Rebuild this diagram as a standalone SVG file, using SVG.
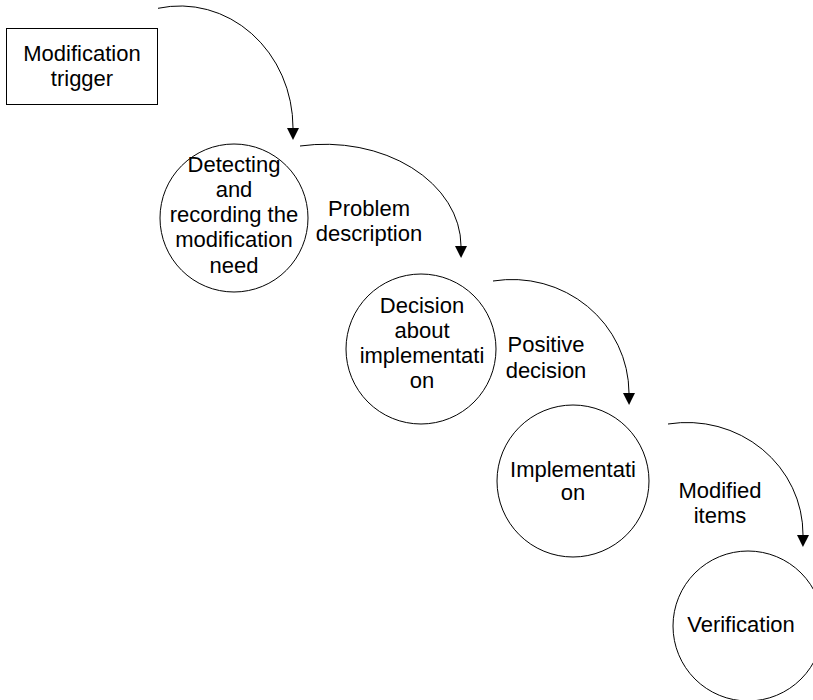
<svg xmlns="http://www.w3.org/2000/svg" width="813" height="700" viewBox="0 0 813 700">
  <style>
    .node { fill: #ffffff; stroke: #000000; stroke-width: 1; }
    .label { font-family: "Liberation Sans", Arial, sans-serif; font-size: 22px; fill: #000000; text-anchor: middle; }
    .flow { fill: none; stroke: #000000; stroke-width: 1; marker-end: url(#arrow); }
  </style>
  <defs>
    <!-- arrowhead base sits at the path end, tip points along the tangent -->
    <marker id="arrow" markerUnits="userSpaceOnUse" markerWidth="13" markerHeight="13" refX="0" refY="6" orient="auto">
      <path d="M0,0 L12,6 L0,12 Z" fill="#000000"/>
    </marker>
  </defs>
  <rect width="813" height="700" fill="#ffffff"/>

  <g id="connectors">
    <path class="flow" d="M158,8.3 A113,122 0 0 1 293,128"/>
    <path class="flow" d="M300,146 A136,102 0 0 1 461,246"/>
    <path class="flow" d="M493,281 A117,114 0 0 1 629,393"/>
    <path class="flow" d="M668,424 A116,112 0 0 1 803,535"/>
  </g>

  <g id="edge-labels">
    <text class="label" x="369" y="216">Problem</text>
    <text class="label" x="369" y="241">description</text>
    <text class="label" x="546" y="352">Positive</text>
    <text class="label" x="546" y="378">decision</text>
    <text class="label" x="720" y="498">Modified</text>
    <text class="label" x="720" y="523">items</text>
  </g>

  <g id="trigger">
    <rect class="node" x="6.5" y="28.5" width="151" height="76"/>
    <text class="label" x="82" y="61">Modification</text>
    <text class="label" x="82" y="86">trigger</text>
  </g>

  <g id="detecting">
    <circle class="node" cx="234" cy="218" r="74"/>
    <text class="label" x="234" y="172">Detecting</text>
    <text class="label" x="234" y="197">and</text>
    <text class="label" x="234" y="222">recording the</text>
    <text class="label" x="234" y="247">modification</text>
    <text class="label" x="234" y="273">need</text>
  </g>

  <g id="decision">
    <circle class="node" cx="421" cy="349" r="75"/>
    <text class="label" x="422" y="313">Decision</text>
    <text class="label" x="422" y="338">about</text>
    <text class="label" x="422" y="363">implementati</text>
    <text class="label" x="422" y="388">on</text>
  </g>

  <g id="implementation">
    <circle class="node" cx="573" cy="481" r="76"/>
    <text class="label" x="573" y="477">Implementati</text>
    <text class="label" x="573" y="500">on</text>
  </g>

  <g id="verification">
    <circle class="node" cx="748" cy="626" r="75"/>
    <text class="label" x="741" y="632">Verification</text>
  </g>
</svg>
